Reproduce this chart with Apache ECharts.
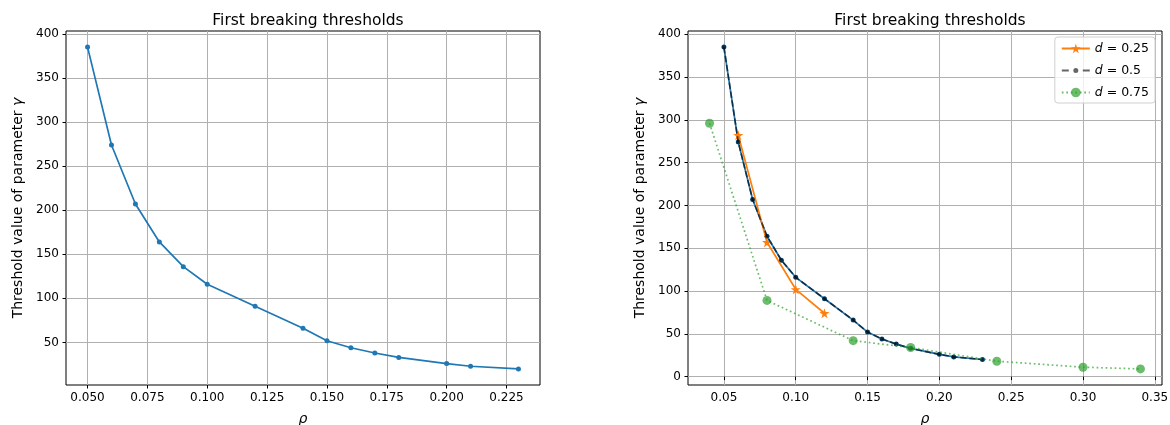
<!DOCTYPE html>
<html>
<head>
<meta charset="utf-8">
<script src="https://cdn.jsdelivr.net/npm/echarts@6/dist/echarts.min.js"></script>
<style>
html,body{margin:0;padding:0;background:#fff;}
#chart{width:1170px;height:425px;}
</style>
</head>
<body>
<div id="chart"></div>
<script>
// ---- data ----
const rho = [0.05, 0.06, 0.07, 0.08, 0.09, 0.10, 0.12, 0.14, 0.15, 0.16, 0.17, 0.18, 0.20, 0.21, 0.23];
const gamma = [385, 274, 207, 164, 136, 116, 91, 66, 52, 44, 38, 33, 26, 23, 20];
const rho25 = [0.06, 0.08, 0.10, 0.12];
const gamma25 = [282, 157, 102, 74];
const rho75 = [0.04, 0.08, 0.14, 0.18, 0.24, 0.30, 0.34];
const gamma75 = [296, 89, 42, 34, 18, 11, 9];
const xTicksLeft = [0.050, 0.075, 0.100, 0.125, 0.150, 0.175, 0.200, 0.225];
const xTicksRight = [0.05, 0.10, 0.15, 0.20, 0.25, 0.30, 0.35];
const yTicksLeft = [50, 100, 150, 200, 250, 300, 350, 400];
const yTicksRight = [0, 50, 100, 150, 200, 250, 300, 350, 400];
const titleText = 'First breaking thresholds';
const legendNames = ['d = 0.25', 'd = 0.5', 'd = 0.75'];

// matplotlib-like 5% margins
function lim(arrs) {
  const all = [].concat(...arrs);
  const mn = Math.min(...all), mx = Math.max(...all);
  const m = (mx - mn) * 0.05;
  return [mn - m, mx + m];
}
const xl0 = lim([rho]), yl0 = lim([gamma]);
const xl1 = lim([rho, rho25, rho75]), yl1 = lim([gamma, gamma25, gamma75]);

const zip = (a, b) => a.map((v, i) => [v, b[i]]);
const FONT = 'DejaVu Sans';
const TICK = 12, LAB = 14;
const C0 = '#1f77b4', C1 = '#ff7f0e', C2 = 'rgba(44,160,44,0.7)', K = 'rgba(0,0,0,0.6)';

function xAxis(gi, l, ticks, dec) {
  return {
    type: 'value', gridIndex: gi, min: l[0], max: l[1],
    axisLine: {show: false},
    axisTick: {show: true, inside: false, length: 3.5, lineStyle: {color: '#000', width: 1}, customValues: ticks},
    axisLabel: {customValues: ticks, formatter: v => v.toFixed(dec), color: '#000', fontFamily: FONT, fontSize: TICK, margin: 7},
    splitLine: {show: true, lineStyle: {color: '#b0b0b0', width: 1}},
    name: '{i|ρ}', nameLocation: 'middle', nameGap: 27,
    nameTextStyle: {rich: {i: {fontFamily: FONT, fontStyle: 'italic', fontSize: LAB, color: '#000'}}}
  };
}
function yAxis(gi, l, ticks) {
  return {
    type: 'value', gridIndex: gi, min: l[0], max: l[1],
    axisLine: {show: false},
    axisTick: {show: true, inside: false, length: 3.5, lineStyle: {color: '#000', width: 1}, customValues: ticks},
    axisLabel: {customValues: ticks, color: '#000', fontFamily: FONT, fontSize: TICK, margin: 7},
    splitLine: {show: true, lineStyle: {color: '#b0b0b0', width: 1}},
    name: '{n|Threshold value of parameter }{i|γ}', nameLocation: 'middle', nameGap: 41,
    nameTextStyle: {rich: {
      n: {fontFamily: FONT, fontSize: LAB, color: '#000'},
      i: {fontFamily: FONT, fontStyle: 'italic', fontSize: LAB, color: '#000'}
    }}
  };
}

// legend icon for the dashed-dot entry: dash, small dot, dash
const dashDotIcon = 'path://M0,-0.9L7,-0.9L7,0.9L0,0.9Z' +
  'M11.5,0A2.5,2.5,0,1,0,16.5,0A2.5,2.5,0,1,0,11.5,0Z' +
  'M21,-0.9L28,-0.9L28,0.9L21,0.9Z';

const chart = echarts.init(document.getElementById('chart'), null, {renderer: 'canvas'});
chart.setOption({
  animation: false,
  backgroundColor: '#fff',
  title: [
    {text: titleText, left: 303, top: 8, textAlign: 'center',
     textStyle: {fontFamily: FONT, fontSize: 15.5, fontWeight: 'normal', color: '#000'}},
    {text: titleText, left: 925, top: 8, textAlign: 'center',
     textStyle: {fontFamily: FONT, fontSize: 15.5, fontWeight: 'normal', color: '#000'}}
  ],
  grid: [
    {left: 66, top: 31, width: 474, height: 354, outerBoundsMode: 'none', containLabel: false,
     show: true, borderColor: '#000', borderWidth: 1, backgroundColor: 'transparent'},
    {left: 688, top: 31, width: 474, height: 354, outerBoundsMode: 'none', containLabel: false,
     show: true, borderColor: '#000', borderWidth: 1, backgroundColor: 'transparent'}
  ],
  xAxis: [xAxis(0, xl0, xTicksLeft, 3), xAxis(1, xl1, xTicksRight, 2)],
  yAxis: [yAxis(0, yl0, yTicksLeft), yAxis(1, yl1, yTicksRight)],
  legend: {
    data: [legendNames[0], {name: legendNames[1], icon: dashDotIcon}, legendNames[2]],
    orient: 'vertical', right: 15, top: 37,
    backgroundColor: 'rgba(255,255,255,0.8)', borderColor: '#d0d0d0', borderWidth: 1, borderRadius: 3,
    padding: [5, 6, 4, 6], itemWidth: 28, itemHeight: 12, itemGap: 9,
    formatter: name => '{i|d}' + name.slice(1),
    textStyle: {fontFamily: FONT, fontSize: 12.5, color: '#000',
      rich: {i: {fontFamily: FONT, fontStyle: 'italic', fontSize: 12.5, color: '#000'}}}
  },
  series: [
    {type: 'line', name: 'left', xAxisIndex: 0, yAxisIndex: 0, data: zip(rho, gamma),
     symbol: 'circle', symbolSize: 5, lineStyle: {color: C0, width: 1.7}, itemStyle: {color: C0}, z: 3},
    {type: 'line', name: 'base', xAxisIndex: 1, yAxisIndex: 1, data: zip(rho, gamma),
     symbol: 'circle', symbolSize: 5, lineStyle: {color: C0, width: 1.7}, itemStyle: {color: C0}, z: 2},
    {type: 'line', name: legendNames[0], xAxisIndex: 1, yAxisIndex: 1, data: zip(rho25, gamma25),
     symbol: 'path://M0,-1L0.2245,-0.309L0.9511,-0.309L0.3633,0.118L0.5878,0.809L0,0.382L-0.5878,0.809L-0.3633,0.118L-0.9511,-0.309L-0.2245,-0.309Z',
     symbolSize: 10, lineStyle: {color: C1, width: 1.7}, itemStyle: {color: C1}, z: 3},
    {type: 'line', name: legendNames[1], xAxisIndex: 1, yAxisIndex: 1, data: zip(rho, gamma),
     symbol: 'circle', symbolSize: 4.5, lineStyle: {color: K, width: 1.7, type: [6.3, 2.7]}, itemStyle: {color: K}, z: 4},
    {type: 'line', name: legendNames[2], xAxisIndex: 1, yAxisIndex: 1, data: zip(rho75, gamma75),
     symbol: 'circle', symbolSize: 9, lineStyle: {color: C2, width: 1.7, type: [1.7, 2.8]}, itemStyle: {color: C2}, z: 5}
  ]
});
</script>
</body>
</html>
